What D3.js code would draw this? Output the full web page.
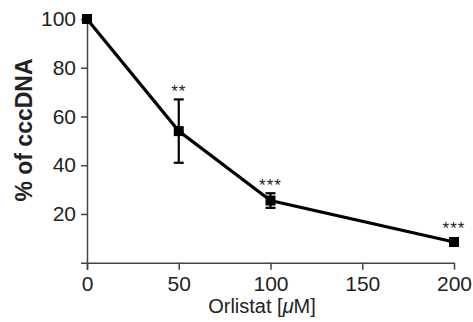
<!DOCTYPE html>
<html><head><meta charset="utf-8">
<script src="https://cdn.jsdelivr.net/npm/d3@7"></script>
<style>body{margin:0;background:#fff}svg{display:block}</style>
</head><body>
<svg id="c" width="473" height="322"></svg>
<script>
const doses = [0, 50, 100, 200];
const values = [100, 54, 25.5, 8.5];
const errors = [0, 13, 3, 1];
const stars = ["", "**", "***", "***"];
const xTicks = [0, 50, 100, 150, 200];
const yTicks = [0, 20, 40, 60, 80, 100];

const svg = d3.select("#c");
const x = d3.scaleLinear().domain([0, 200]).range([87, 454]);
const y = d3.scaleLinear().domain([0, 100]).range([262.7, 19]);
const axisColor = "#444";

const xa = svg.append("g").attr("transform", "translate(0,262.7)")
  .call(d3.axisBottom(x).tickValues(xTicks).tickSize(7).tickPadding(6).tickSizeOuter(0));
xa.select(".domain").attr("d", `M81,0.5H${x(200)}`);
const ya = svg.append("g").attr("transform", "translate(87,0)")
  .call(d3.axisLeft(y).tickValues(yTicks).tickSize(6).tickPadding(5).tickSizeOuter(0)
    .tickFormat(d => d === 0 ? "" : d));
ya.select(".domain").attr("d", `M0.5,${y(100)}V270`);
[xa, ya].forEach(a => {
  a.selectAll(".domain").attr("stroke", axisColor).attr("stroke-width", 1.5);
  a.selectAll(".tick line").attr("stroke", axisColor).attr("stroke-width", 1.5);
  a.selectAll("text").attr("fill", "#222").attr("font-family", "Liberation Sans, Arial, sans-serif").attr("font-size", 21);
});
ya.selectAll(".tick line").filter(d => d === 0).remove();
xa.selectAll(".tick line").attr("y2", 7);

// error bars
const eb = svg.append("g").attr("stroke", "#000").attr("stroke-width", 2.2);
doses.forEach((d, i) => {
  if (errors[i] <= 1) return;
  const cx = x(d), t = y(values[i] + errors[i]), b = y(values[i] - errors[i]);
  eb.append("line").attr("x1", cx).attr("x2", cx).attr("y1", t).attr("y2", b);
  eb.append("line").attr("x1", cx - 5).attr("x2", cx + 5).attr("y1", t).attr("y2", t);
  eb.append("line").attr("x1", cx - 5).attr("x2", cx + 5).attr("y1", b).attr("y2", b);
});

svg.append("path").datum(doses.map((d, i) => [d, values[i]]))
  .attr("fill", "none").attr("stroke", "#000").attr("stroke-width", 3.2)
  .attr("d", d3.line().x(p => x(p[0])).y(p => y(p[1])));

svg.append("g").selectAll("rect").data(doses).join("rect")
  .attr("x", d => x(d) - 5).attr("y", (d, i) => y(values[i]) - 5)
  .attr("width", 10).attr("height", 10).attr("fill", "#000");

svg.append("g").selectAll("text").data(doses).join("text")
  .attr("x", d => x(d)).attr("y", (d, i) => y(values[i] + errors[i]) - 2 + (i === 3 ? -4 : 0))
  .attr("text-anchor", "middle").attr("font-family", "Liberation Sans, Arial, sans-serif")
  .attr("font-size", 17).attr("fill", "#222").attr("letter-spacing", 1)
  .text((d, i) => stars[i]);

svg.append("text").attr("x", 262).attr("y", 313).attr("text-anchor", "middle")
  .attr("font-family", "Liberation Sans, Arial, sans-serif").attr("font-size", 20).attr("fill", "#222")
  .html('Orlistat [<tspan font-style="italic">μ</tspan>M]');

svg.append("text").attr("transform", "translate(32,130) rotate(-90)").attr("text-anchor", "middle")
  .attr("font-family", "Liberation Sans, Arial, sans-serif").attr("font-size", 23).attr("font-weight", "bold").attr("fill", "#222")
  .text("% of cccDNA");
</script>
</body></html>
